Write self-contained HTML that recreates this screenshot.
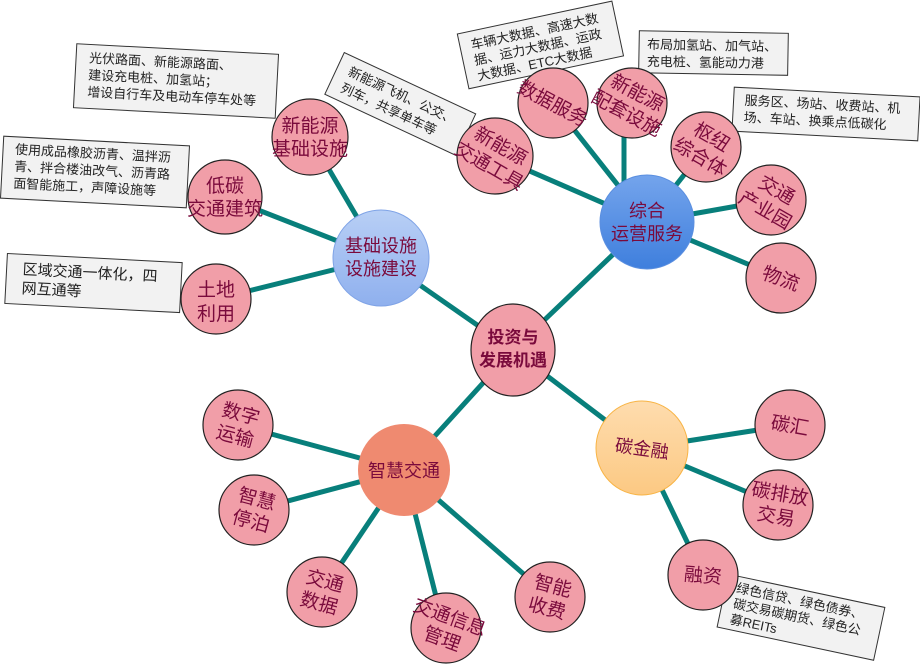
<!DOCTYPE html>
<html><head><meta charset="utf-8"><style>
html,body{margin:0;padding:0;background:#fff;}
svg{display:block;}
text{font-family:"Liberation Sans","Noto Sans CJK SC",sans-serif;fill:#7a0a3c;}
.bx text{fill:#222;font-size:13px;}
.bx rect{fill:#f2f2f2;stroke:#333;stroke-width:1;}
.lf{fill:#f19ea8;stroke:#222;stroke-width:1.2;}
.ln{stroke:#087f7b;stroke-width:5;}
.lt{font-size:19px;text-anchor:middle;}
</style></head><body>
<svg width="920" height="668" viewBox="0 0 920 668" xmlns="http://www.w3.org/2000/svg">
<defs>
<linearGradient id="gb" x1="0" y1="0" x2="0" y2="1"><stop offset="0" stop-color="#b8cff5"/><stop offset="1" stop-color="#8fb0ee"/></linearGradient>
<linearGradient id="gd" x1="0" y1="0" x2="0" y2="1"><stop offset="0" stop-color="#74a4ec"/><stop offset="1" stop-color="#3f7fdd"/></linearGradient>
<linearGradient id="go" x1="0" y1="0" x2="0" y2="1"><stop offset="0" stop-color="#fedcae"/><stop offset="1" stop-color="#fcc983"/></linearGradient>
</defs>
<g class="ln">
<line x1="513" y1="350" x2="381" y2="258"/>
<line x1="513" y1="350" x2="647" y2="222"/>
<line x1="513" y1="350" x2="642" y2="448"/>
<line x1="513" y1="350" x2="404" y2="470"/>
<line x1="381" y1="258" x2="310" y2="137"/>
<line x1="381" y1="258" x2="225" y2="197"/>
<line x1="381" y1="258" x2="216" y2="299"/>
<line x1="647" y1="222" x2="495" y2="156"/>
<line x1="647" y1="222" x2="553" y2="103"/>
<line x1="624" y1="222" x2="624" y2="120"/>
<line x1="647" y1="222" x2="706" y2="147"/>
<line x1="647" y1="222" x2="771" y2="200"/>
<line x1="647" y1="222" x2="781" y2="278"/>
<line x1="642" y1="448" x2="790" y2="425"/>
<line x1="642" y1="448" x2="778" y2="505"/>
<line x1="642" y1="448" x2="703" y2="575"/>
<line x1="404" y1="470" x2="238" y2="425"/>
<line x1="404" y1="470" x2="254" y2="510"/>
<line x1="404" y1="470" x2="322" y2="592"/>
<line x1="404" y1="470" x2="444" y2="628"/>
<line x1="404" y1="470" x2="550" y2="597"/>
</g>
<g class="bx">
<g transform="rotate(3 176 81)"><rect x="75" y="49" width="202" height="64"/><text x="88" y="67">光伏路面、新能源路面、</text><text x="88" y="84">建设充电桩、加氢站；</text><text x="88" y="101">增设自行车及电动车停车处等</text></g>
<g transform="rotate(3 95 172)"><rect x="2" y="141" width="186" height="62"/><text x="14" y="158">使用成品橡胶沥青、温拌沥</text><text x="14" y="175">青、拌合楼油改气、沥青路</text><text x="14" y="192">面智能施工，声障设施等</text></g>
<g transform="rotate(3 93 283)"><rect x="6" y="258" width="175" height="50"/><text x="22" y="278" style="font-size:15px">区域交通一体化，四</text><text x="22" y="297" style="font-size:15px">网互通等</text></g>
<g transform="rotate(25 398 103)"><rect x="328" y="80" width="145" height="46"/><text x="340" y="99">新能源飞机、公交、</text><text x="340" y="117">列车，共享单车等</text></g>
<g transform="rotate(-12 540 43)"><rect x="461" y="17" width="158" height="56"/><text x="472" y="35">车辆大数据、高速大数</text><text x="472" y="51">据、运力大数据、运政</text><text x="472" y="67">大数据、ETC大数据</text></g>
<g transform="rotate(1 713 52)"><rect x="639" y="32" width="149" height="42"/><text x="647" y="50">布局加氢站、加气站、</text><text x="647" y="67">充电桩、氢能动力港</text></g>
<g transform="rotate(3 826 114)"><rect x="733" y="92" width="186" height="44"/><text x="744" y="109">服务区、场站、收费站、机</text><text x="744" y="126">场、车站、换乘点低碳化</text></g>
<g transform="rotate(12 800 617)"><rect x="721" y="590" width="160" height="54"/><text x="732" y="606">绿色信贷、绿色债券、</text><text x="732" y="622">碳交易碳期货、绿色公</text><text x="732" y="638">募REITs</text></g>
</g>
<ellipse cx="381" cy="258" rx="48" ry="48" fill="url(#gb)" stroke="#7fa3e6" stroke-width="1"/>
<text x="381" y="252" style="font-size:18px" text-anchor="middle">基础设施</text><text x="381" y="275" style="font-size:18px" text-anchor="middle">设施建设</text>
<ellipse cx="647" cy="222" rx="47" ry="47" fill="url(#gd)" stroke="#5b8fe0" stroke-width="1"/>
<text x="647" y="217" style="font-size:18px" text-anchor="middle">综合</text><text x="647" y="240" style="font-size:18px" text-anchor="middle">运营服务</text>
<ellipse cx="642" cy="448" rx="46" ry="47" fill="url(#go)" stroke="#f8b445" stroke-width="1"/>
<text x="642" y="455" style="font-size:18px" text-anchor="middle" transform="rotate(8 642 448)">碳金融</text>
<ellipse cx="404" cy="470" rx="46" ry="46" fill="#ef8a70"/>
<text x="404" y="477" style="font-size:18px" text-anchor="middle">智慧交通</text>
<ellipse cx="513" cy="350" rx="42" ry="46" class="lf"/>
<text x="513" y="343" style="font-size:17px;font-weight:bold" text-anchor="middle">投资与</text><text x="513" y="366" style="font-size:17px;font-weight:bold" text-anchor="middle">发展机遇</text>
<g>
<circle cx="310" cy="137" r="38" class="lf"/><text class="lt" x="310" y="132">新能源</text><text class="lt" x="310" y="155">基础设施</text>
<circle cx="225" cy="197" r="37" class="lf"/><text class="lt" x="225" y="192">低碳</text><text class="lt" x="225" y="215">交通建筑</text>
<circle cx="216" cy="299" r="35" class="lf"/><text class="lt" x="216" y="296">土地</text><text class="lt" x="216" y="320">利用</text>
<circle cx="495" cy="156" r="38" class="lf"/><g transform="rotate(30 495 156)"><text class="lt" x="495" y="151">新能源</text><text class="lt" x="495" y="174">交通工具</text></g>
<circle cx="553" cy="103" r="35" class="lf"/><text class="lt" x="553" y="110" transform="rotate(28 553 103)">数据服务</text>
<circle cx="632" cy="103" r="35" class="lf"/><g transform="rotate(28 632 103)"><text class="lt" x="632" y="98">新能源</text><text class="lt" x="632" y="121">配套设施</text></g>
<circle cx="706" cy="147" r="35" class="lf"/><g transform="rotate(30 706 147)"><text class="lt" x="706" y="142">枢纽</text><text class="lt" x="706" y="165">综合体</text></g>
<circle cx="771" cy="200" r="35" class="lf"/><g transform="rotate(30 771 200)"><text class="lt" x="771" y="195">交通</text><text class="lt" x="771" y="218">产业园</text></g>
<circle cx="781" cy="278" r="35" class="lf"/><text class="lt" x="781" y="285" transform="rotate(20 781 278)">物流</text>
<circle cx="790" cy="425" r="35" class="lf"/><text class="lt" x="790" y="432" transform="rotate(10 790 425)">碳汇</text>
<circle cx="778" cy="505" r="35" class="lf"/><g transform="rotate(10 778 505)"><text class="lt" x="778" y="500">碳排放</text><text class="lt" x="778" y="523">交易</text></g>
<circle cx="703" cy="575" r="35" class="lf"/><text class="lt" x="703" y="582" transform="rotate(5 703 575)">融资</text>
<circle cx="238" cy="425" r="35" class="lf"/><g transform="rotate(15 238 425)"><text class="lt" x="238" y="420">数字</text><text class="lt" x="238" y="443">运输</text></g>
<circle cx="254" cy="510" r="35" class="lf"/><g transform="rotate(15 254 510)"><text class="lt" x="254" y="505">智慧</text><text class="lt" x="254" y="528">停泊</text></g>
<circle cx="322" cy="592" r="35" class="lf"/><g transform="rotate(15 322 592)"><text class="lt" x="322" y="587">交通</text><text class="lt" x="322" y="610">数据</text></g>
<circle cx="446" cy="628" r="35" class="lf"/><g transform="rotate(20 446 628)"><text class="lt" x="446" y="623">交通信息</text><text class="lt" x="446" y="646">管理</text></g>
<circle cx="550" cy="597" r="35" class="lf"/><g transform="rotate(15 550 597)"><text class="lt" x="550" y="592">智能</text><text class="lt" x="550" y="615">收费</text></g>
</g>
</svg>
</body></html>
